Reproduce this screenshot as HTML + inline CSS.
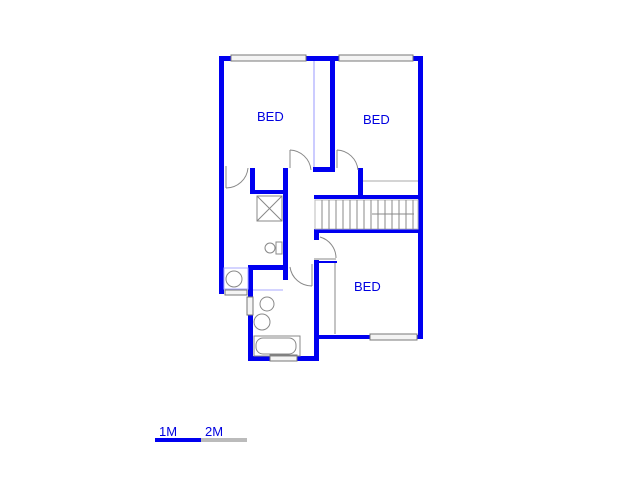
<!DOCTYPE html>
<html><head><style>body{margin:0;background:#fff}</style></head><body>
<svg width="640" height="480" xmlns="http://www.w3.org/2000/svg">
<g fill="#0000f0">
<rect x="219" y="56" width="204" height="5"/>
<rect x="219" y="56" width="5" height="238"/>
<rect x="418" y="56" width="5" height="283"/>
<rect x="330" y="56" width="5" height="116"/>
<rect x="313" y="167" width="22" height="5"/>
<rect x="250" y="168" width="5" height="26"/>
<rect x="250" y="190" width="38" height="4"/>
<rect x="283" y="168" width="5" height="112"/>
<rect x="358" y="168" width="5" height="31"/>
<rect x="314" y="195" width="109" height="4"/>
<rect x="314" y="229" width="109" height="4"/>
<rect x="314" y="229" width="5" height="11"/>
<rect x="314" y="260" width="5" height="101"/>
<rect x="319" y="261" width="18" height="2"/>
<rect x="314" y="335" width="109" height="4"/>
<rect x="248" y="265" width="5" height="96"/>
<rect x="248" y="265" width="40" height="5"/>
<rect x="248" y="356" width="71" height="5"/>
</g>
<g fill="#f4f4f4" stroke="#777" stroke-width="1">
<rect x="231" y="55" width="75" height="6"/>
<rect x="339" y="55" width="74" height="6"/>
<rect x="370" y="334" width="47" height="6"/>
<rect x="270" y="355" width="27" height="6"/>
<rect x="225" y="290" width="22" height="5"/>
<rect x="247" y="297" width="6" height="18"/>
</g>
<g fill="none" stroke="#888" stroke-width="1">
<line x1="314" y1="61" x2="314" y2="167" stroke="#99f"/>
<line x1="363" y1="181" x2="418" y2="181" stroke="#aaa"/>
<line x1="335" y1="263" x2="335" y2="334"/>
<path d="M226 188 A22 22 0 0 0 248 168"/><line x1="226" y1="166" x2="226" y2="188"/>
<line x1="290" y1="150" x2="290" y2="168"/><path d="M290 150 A22 22 0 0 1 311 170"/>
<line x1="337" y1="150" x2="337" y2="168"/><path d="M337 150 A22 22 0 0 1 358 170"/>
<path d="M320 237 A22 22 0 0 1 336 258"/><line x1="314" y1="259" x2="336" y2="259"/>
<path d="M290 267 A22 22 0 0 0 312 286"/><line x1="312" y1="264" x2="312" y2="286"/>
<rect x="257" y="196" width="25" height="25"/><path d="M257 196 L282 221 M282 196 L257 221"/>
<rect x="315" y="200" width="103" height="29" stroke="#bbb"/>
<path d="M322 200 v29 M329 200 v29 M336 200 v29 M343 200 v29 M350 200 v29 M357 200 v29 M364 200 v29 M371 200 v29 M378 200 v29 M385 200 v29 M392 200 v29 M399 200 v29 M406 200 v29 M413 200 v29"/>
<line x1="372" y1="214" x2="414" y2="214"/>
<circle cx="270" cy="248" r="5"/><rect x="276" y="242" width="6" height="12"/>
<circle cx="234" cy="279" r="8"/><rect x="224" y="268" width="24" height="21" stroke="#aaf"/>
<circle cx="267" cy="304" r="7"/><circle cx="262" cy="322" r="8"/>
<rect x="254" y="336" width="46" height="20"/><rect x="256" y="338" width="40" height="16" rx="7"/>
<line x1="253" y1="290" x2="283" y2="290" stroke="#aaf"/>
</g>
<g fill="#0000e0" font-family="Liberation Sans, sans-serif" font-size="13">
<text x="257" y="121">BED</text>
<text x="363" y="124">BED</text>
<text x="354" y="291">BED</text>
<text x="159" y="436" font-size="13">1M</text>
<text x="205" y="436" font-size="13">2M</text>
</g>
<rect x="155" y="438" width="46" height="4" fill="#0000f0"/>
<rect x="201" y="438" width="46" height="4" fill="#bbb"/>
</svg>
</body></html>
